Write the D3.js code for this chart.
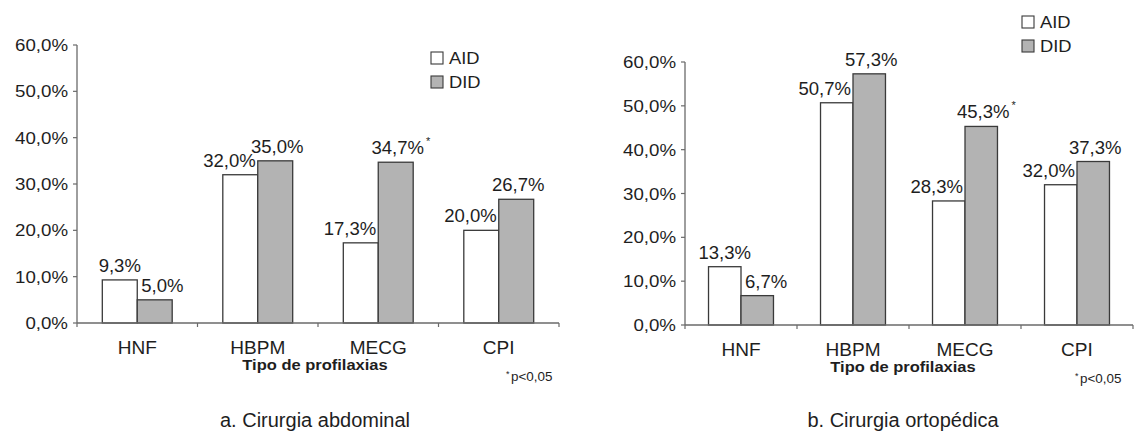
<!DOCTYPE html>
<html><head><meta charset="utf-8">
<script src="https://cdn.jsdelivr.net/npm/d3@7"></script>
<style>
body{margin:0;background:#fff;}
svg{display:block;font-family:"Liberation Sans",Arial,sans-serif;}
</style></head>
<body><svg id="c" width="1138" height="434"></svg>
<script>
const categories = ["HNF","HBPM","MECG","CPI"];
const seriesNames = ["AID","DID"];
const abdAID = [9.3, 32.0, 17.3, 20.0];
const abdDID = [5.0, 35.0, 34.7, 26.7];
const ortAID = [13.3, 50.7, 28.3, 32.0];
const ortDID = [6.7, 57.3, 45.3, 37.3];
const abdStar = [false, false, true, false];
const ortStar = [false, false, true, false];
const yTicks = [0,10,20,30,40,50,60];
const xTitle = "Tipo de profilaxias";
const note = "p<0,05";
const captions = ["a. Cirurgia abdominal","b. Cirurgia ortopédica"];

const loc = d3.formatLocale({decimal:",",thousands:".",grouping:[3],currency:["",""]});
const fmt = v => loc.format(".1f")(v) + "%";
const svg = d3.select("#c");
const ink = "#1e1e1e";

function txt(g, x, y, s, opt){
  const t = g.append("text")
    .attr("transform", `translate(${x},${y}) scale(${opt.sx||1},1)`)
    .attr("text-anchor", opt.anchor||"middle")
    .attr("font-size", opt.size||17)
    .attr("font-weight", opt.weight||"normal")
    .attr("fill", ink)
    .text(s);
  return t;
}

function chart(cfg){
  const g = svg.append("g");
  const x = d3.scaleBand().domain(categories).range([cfg.x0,cfg.x1]).paddingInner(0.42).paddingOuter(0.21);
  const xs = d3.scaleBand().domain(seriesNames).range([0,x.bandwidth()]);
  const y = d3.scaleLinear().domain([0,60]).range([cfg.yb,cfg.yt]);
  const fills = {AID:"#ffffff", DID:"#b3b3b3"};
  const data = categories.map((c,i)=>({c, AID:cfg.aid[i], DID:cfg.did[i], star:cfg.star[i]}));

  // bars
  data.forEach(d=>{
    seriesNames.forEach(s=>{
      g.append("rect")
        .attr("x", x(d.c)+xs(s)).attr("y", y(d[s]))
        .attr("width", xs.bandwidth()).attr("height", y(0)-y(d[s]))
        .attr("fill", fills[s]).attr("stroke","#3a3a3a").attr("stroke-width",1.3);
    });
  });

  // axes
  const axC = "#6a6a6a";
  g.append("line").attr("x1",cfg.x0).attr("x2",cfg.x0).attr("y1",y(60)).attr("y2",y(0)).attr("stroke",axC).attr("stroke-width",1.3);
  g.append("line").attr("x1",cfg.x0).attr("x2",cfg.x1).attr("y1",y(0)).attr("y2",y(0)).attr("stroke",axC).attr("stroke-width",1.3);
  yTicks.forEach(t=>{
    g.append("line").attr("x1",cfg.x0-4).attr("x2",cfg.x0).attr("y1",y(t)).attr("y2",y(t)).attr("stroke",axC).attr("stroke-width",1.2);
    txt(g, cfg.x0-9, y(t)+6, fmt(t), {anchor:"end", size:17, sx:1.1});
  });
  const step = x.step();
  for(let i=0;i<=categories.length;i++){
    const xx = cfg.x0 + i*step;
    g.append("line").attr("x1",xx).attr("x2",xx).attr("y1",y(0)).attr("y2",y(0)+4).attr("stroke",axC).attr("stroke-width",1.2);
  }
  categories.forEach(c=>{
    txt(g, x(c)+x.bandwidth()/2, cfg.yb+31, c, {size:18, sx:1.06});
  });

  // value labels
  data.forEach(d=>{
    const bx = x(d.c);
    const bw = xs.bandwidth();
    if(d.DID > d.AID){
      txt(g, bx+bw-2, y(d.AID)-8, fmt(d.AID), {anchor:"end", size:18, sx:1.03});
    } else {
      txt(g, bx+bw/2, y(d.AID)-8, fmt(d.AID), {size:18, sx:1.03});
    }
    let lab;
    if(d.AID > d.DID){
      lab = txt(g, bx+bw+4, y(d.DID)-8, fmt(d.DID), {anchor:"start", size:18, sx:1.03});
    } else {
      lab = txt(g, bx+bw+bw/2+2, y(d.DID)-8, fmt(d.DID), {size:18, sx:1.03});
    }
    if(d.star){
      const w = lab.node().getBBox().width*1.03;
      txt(g, bx+bw+bw/2+2+w/2+2, y(d.DID)-17, "*", {anchor:"start", size:11});
    }
  });

  // legend
  seriesNames.forEach((s,i)=>{
    g.append("rect").attr("x",cfg.lx).attr("y",cfg.ly+i*24-6).attr("width",12).attr("height",12)
      .attr("fill",fills[s]).attr("stroke","#3a3a3a").attr("stroke-width",1.1);
    txt(g, cfg.lx+18, cfg.ly+i*24+6, s, {anchor:"start", size:17, sx:1.08});
  });

  // titles
  txt(g, cfg.tcx, cfg.yb+47, xTitle, {size:15, weight:"bold", sx:1.1});
  const n = txt(g, cfg.nx, cfg.yb+58, note, {anchor:"start", size:12, sx:1.12});
  txt(g, cfg.nx-5, cfg.yb+54, "*", {anchor:"start", size:9});
  txt(g, cfg.tcx, 427, cfg.caption, {size:20});
}

chart({x0:77, x1:559, yb:323, yt:45, aid:abdAID, did:abdDID, star:abdStar,
       lx:431, ly:58, tcx:315, nx:511, caption:captions[0]});
chart({x0:685, x1:1133, yb:325, yt:62, aid:ortAID, did:ortDID, star:ortStar,
       lx:1022, ly:22, tcx:903, nx:1080, caption:captions[1]});
</script></body></html>
